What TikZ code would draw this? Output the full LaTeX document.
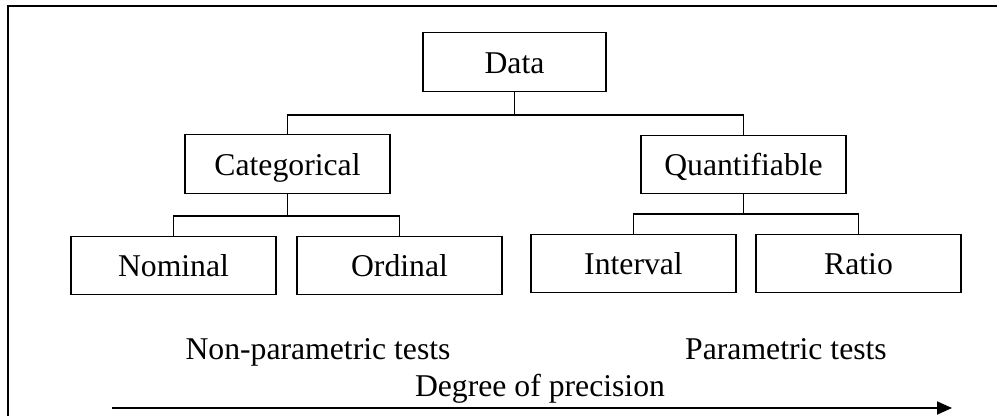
\documentclass[tikz,border=0pt]{standalone}
\usepackage{fontspec}
\setmainfont{Liberation Serif}
\usetikzlibrary{arrows.meta}
\begin{document}
\begin{tikzpicture}[x=1pt,y=-1pt,
  box/.style={draw,line width=1.3pt,inner sep=0pt,minimum width=205pt,minimum height=58.5pt,
    text height=22pt,text depth=0pt,font=\fontsize{31.7}{38}\selectfont},
  lbl/.style={inner sep=0pt,anchor=base,font=\fontsize{31.7}{38}\selectfont},
  conn/.style={line width=1.3pt}]
\useasboundingbox (0,0) rectangle (997,416);
\draw[line width=1.8pt] (8,416) -- (8,6) -- (997,6);
\node[box,minimum width=183pt] (data) at (514.5,62) {Data};
\node[box] (cat) at (287.5,164) {Categorical};
\node[box] (quant) at (743.5,164.5) {Quantifiable};
\node[box] (nom) at (173.5,265.5) {Nominal};
\node[box] (ord) at (399.5,265.5) {Ordinal};
\node[box] (int) at (633.5,263.5) {Interval};
\node[box] (rat) at (858.5,263.5) {Ratio};
\draw[conn] (data.south) -- (data.south |- 0,115);
\draw[conn] (cat.north) |- (quant.north |- 0,115) -- (quant.north);
\draw[conn] (cat.south) -- (cat.south |- 0,216);
\draw[conn] (nom.north) |- (ord.north |- 0,216) -- (ord.north);
\draw[conn] (quant.south) -- (quant.south |- 0,214);
\draw[conn] (int.north) |- (rat.north |- 0,214) -- (rat.north);
\node[lbl] (np) at (318,359) {Non-parametric tests};
\node[lbl] (pt) at (786,359) {Parametric tests};
\node[lbl] (dp) at (540,396) {Degree of precision};
\coordinate (as) at (112,408);
\coordinate (ae) at (952,408);
\draw[line width=1.8pt,-{Triangle[length=15pt,width=13pt]}] (as) -- (ae);
\end{tikzpicture}
\end{document}
